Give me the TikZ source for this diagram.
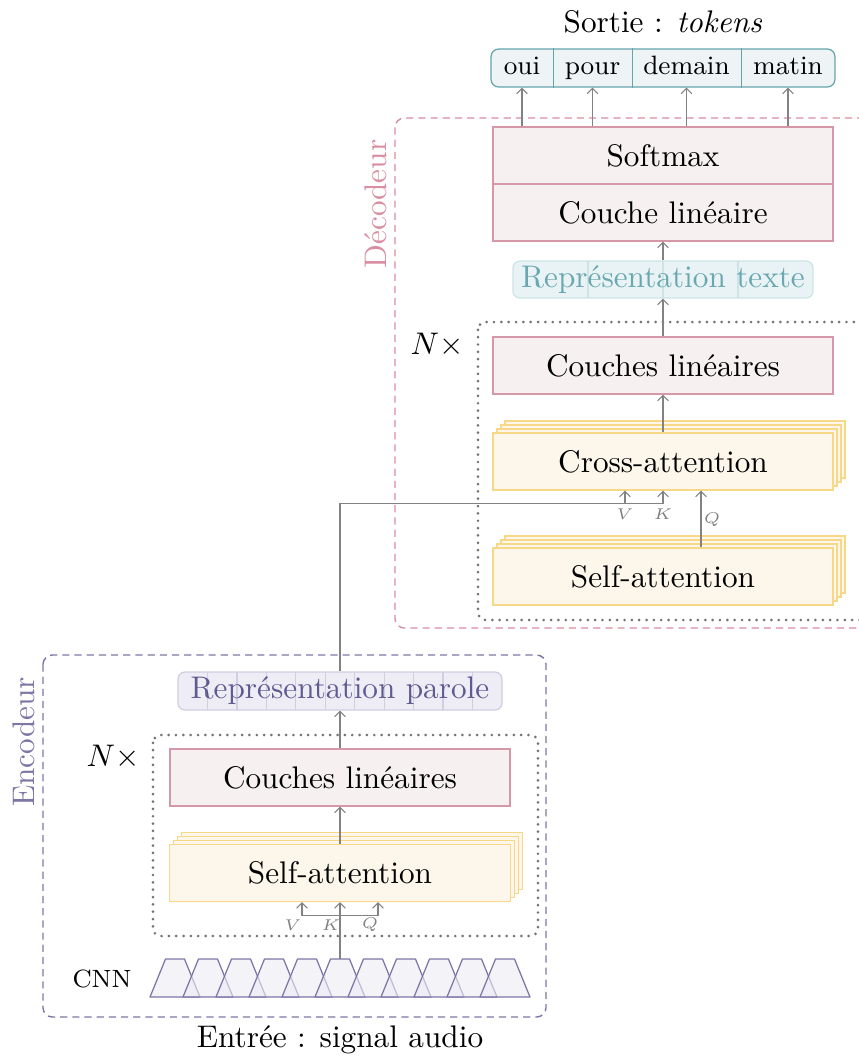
\documentclass[tikz,border=0pt]{standalone}
\usepackage{fontspec}
\usetikzlibrary{arrows.meta,calc}
\definecolor{pinkc}{RGB}{218,142,162}
\definecolor{pinkfill}{RGB}{246,240,241}
\definecolor{pinkbd}{RGB}{212,152,168}
\definecolor{tealc}{RGB}{100,165,172}
\definecolor{tealfill}{RGB}{238,244,246}
\definecolor{rtfill}{RGB}{233,243,245}
\definecolor{rtbd}{RGB}{205,228,231}
\definecolor{rttext}{RGB}{105,168,176}
\definecolor{yelbd}{RGB}{246,216,135}
\definecolor{yelfill}{RGB}{253,247,235}
\definecolor{purc}{RGB}{125,118,165}
\definecolor{purtext}{RGB}{95,90,145}
\definecolor{rpfill}{RGB}{238,237,245}
\definecolor{rpbd}{RGB}{208,206,224}
\definecolor{cnnfill}{RGB}{236,235,244}
\definecolor{grayc}{RGB}{130,130,130}
\definecolor{dotc}{RGB}{115,115,115}
\begin{document}
\begin{tikzpicture}[x=0.32pt,y=-0.32pt,
 wh/.style 2 args={minimum width={(#1)*0.32pt},minimum height={(#2)*0.32pt}},
 txt/.style={font=\fontsize{10}{12}\selectfont, inner sep=0pt},
 tok/.style={font=\fontsize{8.5}{10}\selectfont, inner sep=0pt, text height=6pt, text depth=1.7pt},
 pinkbox/.style={txt, draw=pinkbd, fill=pinkfill, line width=0.4pt, wh={340}{57}},
 yelbox/.style={txt, draw=yelbd, fill=yelfill, line width=0.4pt, wh={340}{57}},
 yelback/.style={draw=yelbd, fill=yelfill, line width=0.4pt},
 arr/.style={draw=grayc, line width=0.35pt, -{Straight Barb[length=1.7pt,width=3.4pt]}},
 gline/.style={draw=grayc, line width=0.35pt},
 dashbox/.style={dash pattern=on 2.3pt off 1.6pt, line width=0.45pt, rounded corners=3pt},
 dotbox/.style={draw=dotc, dash pattern=on 0pt off 2.35pt, line cap=round, line width=0.95pt, rounded corners=2.5pt},
 lab/.style={font=\fontsize{5}{6}\selectfont, text=grayc, inner sep=0pt},
 cnnshape/.style={draw=purc, fill=cnnfill, fill opacity=0.6, line width=0.4pt, line join=round},
]
\clip (0,0) rectangle (859,1056);

% ---------- outputs ----------
\node[txt] (sortie) at (663,22) {Sortie : \textit{tokens}};
\node[draw=tealc, fill=tealfill, line width=0.4pt, rounded corners=2.5pt, wh={344}{38}, inner sep=0pt] (tokens) at (663,68) {};
\node[tok, wh={62}{38}] (oui) at (522,68) {oui};
\node[tok, wh={79}{38}] (pour) at (592.5,68) {pour};
\node[tok, wh={109}{38}] (demain) at (686.5,68) {demain};
\node[tok, wh={94}{38}] (matin) at (788,68) {matin};
\draw[tealc, line width=0.4pt] (oui.north east) -- (oui.south east);
\draw[tealc, line width=0.4pt] (pour.north east) -- (pour.south east);
\draw[tealc, line width=0.4pt] (demain.north east) -- (demain.south east);

% ---------- decoder ----------
\draw[dashbox, draw=pinkc] (395,118) rectangle (880,628);
\node[txt, text=pinkc, rotate=90] (declab) at (376,204) {Décodeur};
\draw[dotbox] (478,322) rectangle (880,620);
\node[txt] (decN) at (437,345) {$N\times$};

\node[pinkbox] (softmax) at (663,155.5) {Softmax};
\node[pinkbox] (couche) at (663,212.5) {Couche linéaire};

\node[txt, text=rttext, fill=rtfill, draw=rtbd, line width=0.4pt, rounded corners=2.2pt, wh={300}{37},
  path picture={\foreach \i in {1,2,3}
    \draw[rtbd, line width=0.4pt] ($(path picture bounding box.south west)!\i/4!(path picture bounding box.south east)$) --
      ($(path picture bounding box.north west)!\i/4!(path picture bounding box.north east)$);}] (rtexte) at (663,279.5) {Représentation texte};

\node[pinkbox] (declin) at (663,365.5) {Couches linéaires};

\foreach \o in {12,8,4} \draw[yelback] (493+\o,433-\o) rectangle (833+\o,490-\o);
\node[yelbox] (cross) at (663,461.5) {Cross-attention};

\foreach \o in {12,8,4} \draw[yelback] (493+\o,548-\o) rectangle (833+\o,605-\o);
\node[yelbox] (dself) at (663,576.5) {Self-attention};

% ---------- encoder ----------
\draw[dashbox, draw=purc] (43,655) rectangle (546,1017);
\node[txt, text=purc, rotate=90] (enclab) at (24,742) {Encodeur};
\draw[dotbox] (153,735) rectangle (538,936);
\node[txt] (encN) at (113,757) {$N\times$};

\node[txt, text=purtext, fill=rpfill, draw=rpbd, line width=0.4pt, rounded corners=2.2pt, wh={324}{38},
  path picture={\foreach \i in {1,...,10}
    \draw[rpbd, line width=0.4pt] ($(path picture bounding box.south west)!\i/11!(path picture bounding box.south east)$) --
      ($(path picture bounding box.north west)!\i/11!(path picture bounding box.north east)$);}] (rparole) at (340,691) {Représentation parole};

\node[pinkbox] (elin) at (340,777.5) {Couches linéaires};

\foreach \o in {12,8,4} \draw[yelback] (169.5+\o,844.5-\o) rectangle (510.5+\o,901.5-\o);
\node[yelbox, wh={341}{57}] (eself) at (340,873) {Self-attention};

% CNN
\node[font=\fontsize{8}{10}\selectfont, inner sep=0pt] (cnnlab) at (102,979) {CNN};
\foreach \i in {0,...,10}
  \draw[cnnshape] (150+33*\i,997) -- (165.5+33*\i,959) -- (184.5+33*\i,959) -- (200+33*\i,997) -- cycle;
\coordinate (cnn) at (340,959);

\node[txt] (entree) at (340,1040) {Entrée : signal audio};

% ---------- connectors ----------
\draw[arr] (softmax.north -| oui) -- (oui.south);
\draw[arr] (softmax.north -| pour) -- (pour.south);
\draw[arr] (softmax.north -| demain) -- (demain.south);
\draw[arr] (softmax.north -| matin) -- (matin.south);
\draw[arr] (rtexte.north) -- (couche.south);
\draw[arr] (declin.north) -- (rtexte.south);
\draw[arr] (cross.north) -- (declin.south);
\draw[arr] ($(dself.north)+(38,0)$) -- ($(cross.south)+(38,0)$);
\draw[arr] (rparole.north) |- ($(cross.south)+(0,13)$) -- (cross.south);
\draw[arr] ($(cross.south)+(-38,13)$) -- ($(cross.south)+(-38,0)$);
\node[lab] (dV) at ($(cross.south)+(-38,24)$) {$V$};
\node[lab] (dK) at ($(cross.south)+(0,24)$) {$K$};
\node[lab] (dQ) at ($(cross.south)+(49,29)$) {$Q$};

\draw[arr] (elin.north) -- (rparole.south);
\draw[arr] (eself.north) -- (elin.south);
\draw[arr] (cnn) -- (eself.south);
\draw[gline] ($(eself.south)+(-38,13.5)$) -- ($(eself.south)+(38,13.5)$);
\draw[arr] ($(eself.south)+(-38,13.5)$) -- ($(eself.south)+(-38,0)$);
\draw[arr] ($(eself.south)+(38,13.5)$) -- ($(eself.south)+(38,0)$);
\node[lab] (eV) at (293,925) {$V$};
\node[lab] (eK) at (331,925) {$K$};
\node[lab] (eQ) at (370,925) {$Q$};
\end{tikzpicture}
\end{document}
